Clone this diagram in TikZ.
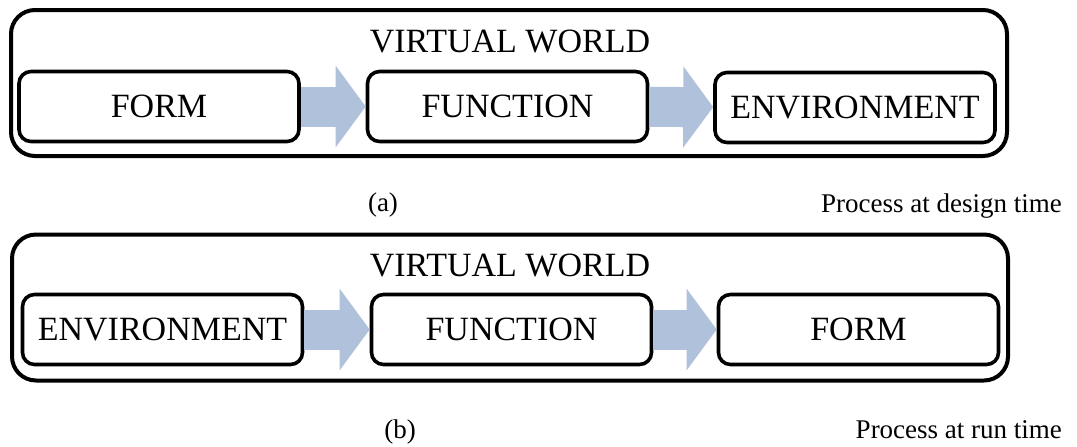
\documentclass[tikz,border=0pt]{standalone}
\usepackage{fontspec}
\setmainfont{Liberation Serif}
\usetikzlibrary{arrows.meta}
\definecolor{flowblue}{RGB}{176,193,219}

\begin{document}
\begin{tikzpicture}[x=0.5pt,y=-0.5pt,
  world/.style={draw,line width=2pt,rounded corners=12pt,minimum width=498pt,minimum height=73pt,inner sep=0pt},
  stage/.style={draw,line width=1.8pt,rounded corners=6pt,minimum width=140pt,minimum height=35pt,inner sep=0pt,
    font=\fontsize{17}{20}\selectfont},
  title/.style={font=\fontsize{17}{20}\selectfont},
  caption/.style={font=\fontsize{13.5}{16}\selectfont},
  flow/.style={flowblue,line width=20pt,-{Triangle[length=15pt,width=40pt]}}]
\useasboundingbox (0,0) rectangle (1077,446);
% (a) design time
\node[world] (worldA) at (509,83) {};
\node[title] (titleA) at (510,41) {VIRTUAL WORLD};
\node[stage] (formA) at (159,106.5) {FORM};
\node[stage] (funcA) at (507.5,106.5) {FUNCTION};
\node[stage] (envA) at (855,107.5) {ENVIRONMENT};
\draw[flow] (formA) -- (funcA);
\draw[flow] (funcA) -- (envA);
\node[caption] (capA) at (383,205) {(a)};
\node[caption,anchor=base east] (noteA) at (1069,212) {Process at design time};
% (b) run time
\node[world] (worldB) at (510,307.5) {};
\node[title] (titleB) at (510,265) {VIRTUAL WORLD};
\node[stage] (envB) at (162.5,329.5) {ENVIRONMENT};
\node[stage] (funcB) at (511.5,329.5) {FUNCTION};
\node[stage] (formB) at (858.5,329.5) {FORM};
\draw[flow] (envB) -- (funcB);
\draw[flow] (funcB) -- (formB);
\node[caption] (capB) at (400,432) {(b)};
\node[caption,anchor=base east] (noteB) at (1069,438) {Process at run time};
\end{tikzpicture}
\end{document}
